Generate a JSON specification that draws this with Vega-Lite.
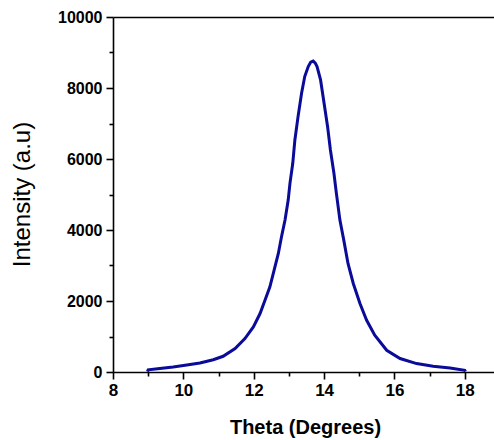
{
  "$schema": "https://vega.github.io/schema/vega-lite/v6.json",
  "autosize": "none",
  "width": 381,
  "height": 355,
  "padding": {"left": 113, "top": 17, "right": 0, "bottom": 68},
  "background": "white",
  "config": {
    "view": {"stroke": null},
    "axis": {
      "domainColor": "black",
      "domainWidth": 1.6,
      "tickColor": "black",
      "tickWidth": 1.6,
      "labelColor": "black",
      "titleColor": "black",
      "labelFont": "Liberation Sans",
      "titleFont": "Liberation Sans",
      "labelFontSize": 16,
      "labelFontWeight": "bold",
      "grid": false
    }
  },
  "data": {
    "values": [
      {"theta": 8.98, "intensity": 10},
      {"theta": 9.0, "intensity": 60},
      {"theta": 9.33, "intensity": 100},
      {"theta": 9.71, "intensity": 141},
      {"theta": 10.05, "intensity": 189},
      {"theta": 10.47, "intensity": 254},
      {"theta": 10.85, "intensity": 345},
      {"theta": 11.13, "intensity": 443},
      {"theta": 11.47, "intensity": 660},
      {"theta": 11.75, "intensity": 942},
      {"theta": 11.99, "intensity": 1269},
      {"theta": 12.18, "intensity": 1647},
      {"theta": 12.32, "intensity": 2023},
      {"theta": 12.46, "intensity": 2398},
      {"theta": 12.58, "intensity": 2869},
      {"theta": 12.7, "intensity": 3340},
      {"theta": 12.79, "intensity": 3808},
      {"theta": 12.89, "intensity": 4279},
      {"theta": 12.98, "intensity": 4843},
      {"theta": 13.03, "intensity": 5315},
      {"theta": 13.11, "intensity": 5879},
      {"theta": 13.17, "intensity": 6536},
      {"theta": 13.26, "intensity": 7193},
      {"theta": 13.36, "intensity": 7853},
      {"theta": 13.45, "intensity": 8322},
      {"theta": 13.55, "intensity": 8604},
      {"theta": 13.62, "intensity": 8730},
      {"theta": 13.69, "intensity": 8760},
      {"theta": 13.75, "intensity": 8700},
      {"theta": 13.8, "intensity": 8604},
      {"theta": 13.9, "intensity": 8228},
      {"theta": 14.0, "intensity": 7571},
      {"theta": 14.1, "intensity": 6911},
      {"theta": 14.18, "intensity": 6254},
      {"theta": 14.28, "intensity": 5597},
      {"theta": 14.35, "intensity": 5032},
      {"theta": 14.45, "intensity": 4279},
      {"theta": 14.56, "intensity": 3715},
      {"theta": 14.68, "intensity": 3058},
      {"theta": 14.83, "intensity": 2494},
      {"theta": 15.02, "intensity": 1929},
      {"theta": 15.21, "intensity": 1458},
      {"theta": 15.44, "intensity": 1035},
      {"theta": 15.78, "intensity": 612},
      {"theta": 16.16, "intensity": 379},
      {"theta": 16.63, "intensity": 237},
      {"theta": 17.1, "intensity": 161},
      {"theta": 17.58, "intensity": 113},
      {"theta": 18.0, "intensity": 48},
      {"theta": 18.02, "intensity": 15}
    ]
  },
  "resolve": {"axis": {"x": "independent"}},
  "layer": [
    {
      "mark": {"type": "line", "color": "#0b0b99", "strokeWidth": 3, "clip": true},
      "encoding": {
        "x": {
          "field": "theta", "type": "quantitative",
          "scale": {"domain": [8, 18.83], "nice": false, "zero": false},
          "axis": {
            "orient": "bottom",
            "values": [8, 9, 10, 11, 12, 13, 14, 15, 16, 17, 18],
            "labelExpr": "datum.value % 2 === 0 ? datum.label : ''",
            "format": "d",
            "tickSize": {"condition": {"test": "datum.value % 2 === 0", "value": 7}, "value": 4},
            "labelPadding": 3,
            "labelFontSize": 17,
            "labelFlush": false,
            "labelOverlap": false,
            "title": "Theta (Degrees)",
            "titleFontSize": 20,
            "titleFontWeight": "bold",
            "titleX": 192,
            "titleY": 55,
            "titleBaseline": "middle",
            "titleAlign": "center"
          }
        },
        "y": {
          "field": "intensity", "type": "quantitative",
          "scale": {"domain": [0, 10000], "nice": false},
          "axis": {
            "values": [0, 1000, 2000, 3000, 4000, 5000, 6000, 7000, 8000, 9000, 10000],
            "labelExpr": "datum.value % 2000 === 0 ? datum.label : ''",
            "format": "d",
            "tickSize": {"condition": {"test": "datum.value % 2000 === 0", "value": 7}, "value": 4},
            "labelPadding": 4,
            "labelFlush": false,
            "labelOverlap": false,
            "title": "Intensity (a.u)",
            "titleFontSize": 24,
            "titleFontWeight": "normal",
            "titleAngle": -90,
            "titleX": -91,
            "titleY": 177,
            "titleBaseline": "middle",
            "titleAlign": "center"
          }
        }
      }
    },
    {
      "mark": {"type": "line", "strokeOpacity": 0},
      "encoding": {
        "x": {
          "field": "theta", "type": "quantitative",
          "axis": {"orient": "top", "ticks": false, "labels": false, "title": null, "domain": true}
        }
      }
    }
  ]
}
